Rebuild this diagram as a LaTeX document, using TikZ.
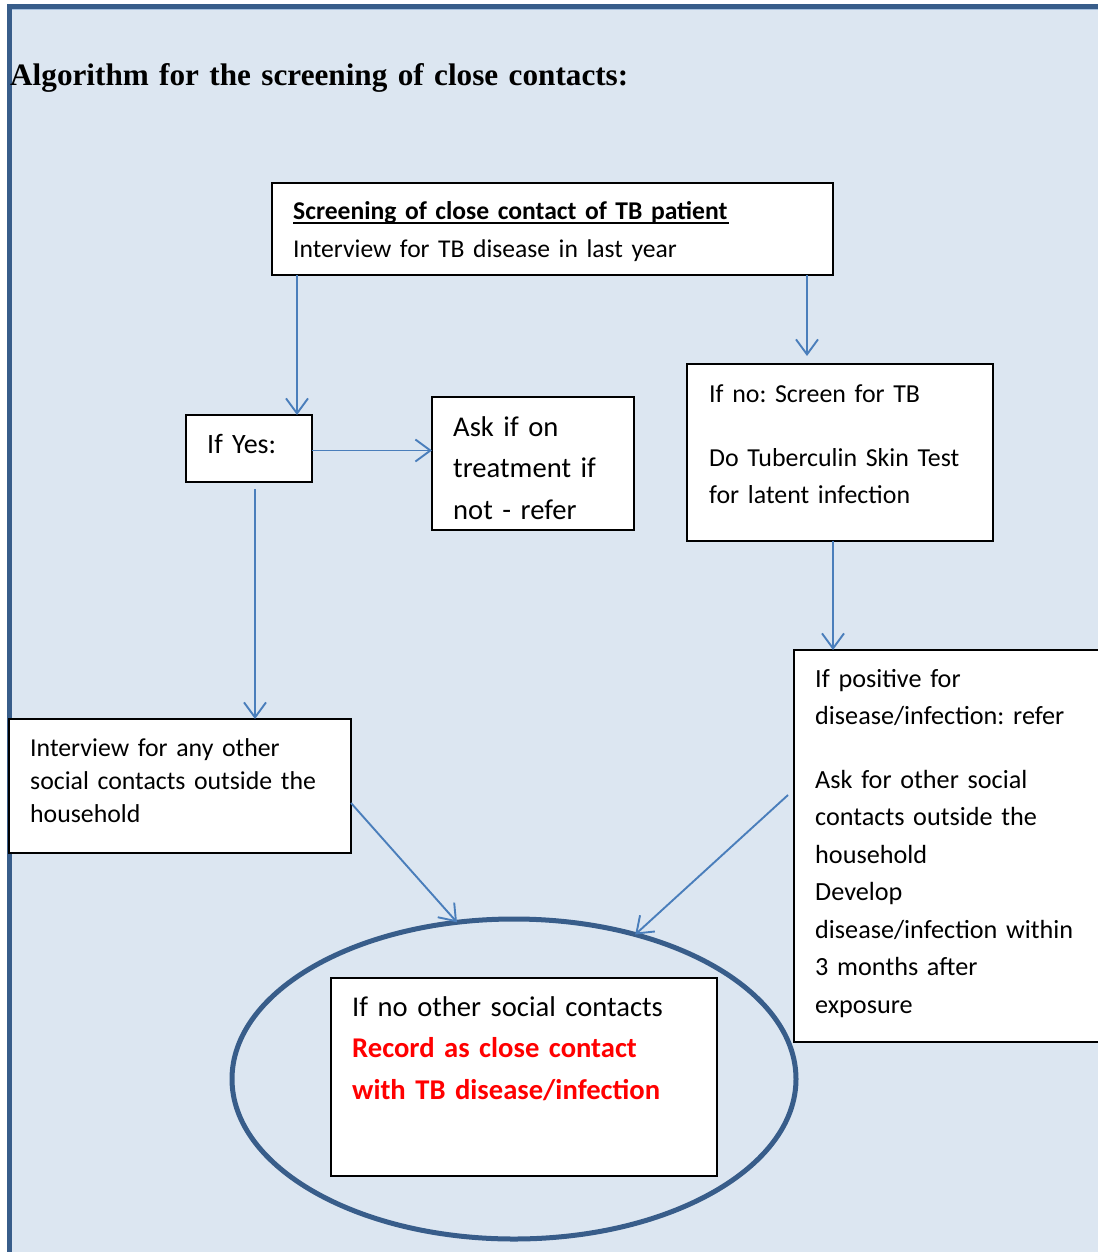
\documentclass[tikz,border=0pt]{standalone}
\usepackage{fontspec}
\setmainfont{Carlito}
\newfontfamily\titlefont{Liberation Serif}
\usetikzlibrary{arrows.meta,shapes.geometric}
\definecolor{bgblue}{HTML}{DCE6F1}
\definecolor{frameblue}{HTML}{385D8A}
\definecolor{arrowblue}{HTML}{4A7EBB}
\definecolor{recred}{HTML}{FF0000}
\newcommand{\thickul}[1]{\underline{#1}}
\tikzset{
  box/.style={draw=black, line width=1.5pt, fill=white, anchor=north west, inner sep=0pt, outer sep=0pt},
  txt/.style={anchor=base west, inner sep=0pt, align=left, text width=#1},
  txt/.default=400pt,
  arr/.style={draw=arrowblue, line width=1.9pt, -{Straight Barb[length=15pt,width=22pt]}},
}
\frenchspacing
\begin{document}
\begin{tikzpicture}[x=1pt,y=-1pt]
\useasboundingbox (0,0) rectangle (1097,1252);
% background
\fill[bgblue] (9,6) rectangle (1110,1260);
\draw[frameblue, line width=5pt] (9.5,1260) -- (9.5,6.5) -- (1110,6.5);
\draw[arrowblue!50, line width=1pt] (12,9.5) -- (1110,9.5);
% title
\node[txt=800pt, font=\titlefont\bfseries\fontsize{31.2}{36}\selectfont] (title) at (10,86) {Algorithm for the screening of close contacts:};
% boxes
\node[box, minimum width=561pt, minimum height=92pt] (b1) at (272,183) {};
\node[txt=540pt, font=\fontsize{25.6}{38}\selectfont] (b1t) at (293,219) {\textbf{Screening of close contact of TB patient}\\Interview for TB disease in last year};
\draw[black, line width=1.6pt] ([yshift=-4pt]b1t.base west) -- ([xshift=436pt,yshift=-4pt]b1t.base west);
\node[box, minimum width=126pt, minimum height=67pt] (yes) at (186,415) {};
\node[txt=110pt, font=\fontsize{28}{38}\selectfont] (yest) at (207,453) {If Yes:};
\node[box, minimum width=202pt, minimum height=133pt] (ask) at (432,397) {};
\node[txt=190pt, font=\fontsize{28.6}{41.5}\selectfont] (askt) at (453,436) {Ask if on\\treatment if\\not - refer};
\node[box, minimum width=306pt, minimum height=177pt] (scr) at (687,364) {};
\node[txt=300pt, font=\fontsize{25.9}{37}\selectfont] (scrt) at (709,402) {If no: Screen for TB\\[27pt]Do Tuberculin Skin Test\\for latent infection};
\node[box, minimum width=320pt, minimum height=392pt] (pos) at (794,650) {};
\node[txt=300pt, font=\fontsize{26.2}{37.5}\selectfont] (post) at (815,687) {If positive for\\disease/infection: refer\\[26pt]Ask for other social\\contacts outside the\\household\\Develop\\disease/infection within\\3 months after\\exposure};
\node[box, minimum width=342pt, minimum height=134pt] (int) at (9,719) {};
\node[txt=330pt, font=\fontsize{25.8}{33}\selectfont] (intt) at (30,756) {Interview for any other\\social contacts outside the\\household};
% ellipse
\node[draw=frameblue, line width=5pt, ellipse, minimum width=564pt, minimum height=320pt, inner sep=0pt, outer sep=0pt] (ell) at (514,1079) {};
\node[box, minimum width=386pt, minimum height=198pt] (inn) at (331,978) {};
\node[txt=370pt, font=\fontsize{28.6}{41.5}\selectfont] (innt) at (352,1016) {If no other social contacts\\\textcolor{recred}{\bfseries Record as close contact}\\\textcolor{recred}{\bfseries with TB disease/infection}};
% connectors
\draw[arr] ([xshift=25pt]b1.south west) -- ([xshift=25pt]b1.south west |- yes.north);
\draw[arr] ([xshift=-26pt]b1.south east) -- ([xshift=-26pt,yshift=8pt]b1.south east |- scr.north);
\draw[arr] ([yshift=-2pt]yes.east) -- ([yshift=-2pt]yes.east -| ask.west);
\draw[arr] ([xshift=-7pt]scr.south) -- ([xshift=-7pt]scr.south |- pos.north);
\draw[arr] ([xshift=6pt]yes.south) ++(0,7) -- ([xshift=6pt]yes.south |- int.north);
\draw[arr] ([yshift=-17pt]int.east) -- (ell.110);
\draw[arr] ([shift={(-6pt,51pt)}]pos.west) -- (ell.50);
\end{tikzpicture}
\end{document}
